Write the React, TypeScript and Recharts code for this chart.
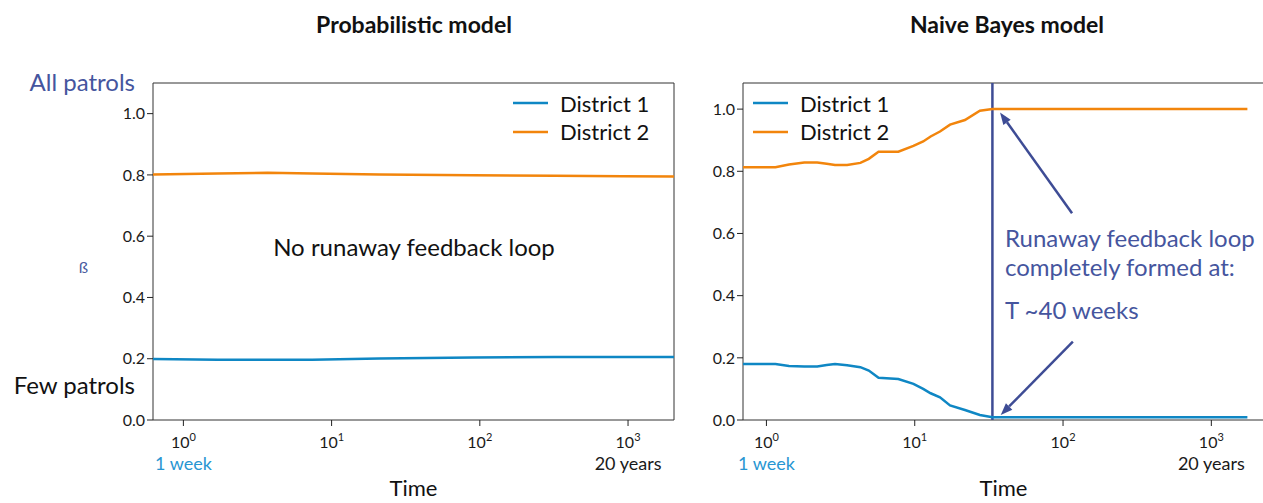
import React from "react";
import {
  LineChart,
  Line,
  XAxis,
  YAxis,
  Legend,
  ReferenceLine,
  ReferenceArea,
} from "recharts";

// time in weeks (log axis)
const probWeeks = [0.6237, 1.7, 3.7, 7.4, 21, 90, 320, 925, 2042];
const probDistrict1 = [0.199, 0.197, 0.197, 0.197, 0.201, 0.204, 0.206, 0.206, 0.206];
const probDistrict2 = [0.801, 0.805, 0.807, 0.805, 0.801, 0.799, 0.797, 0.796, 0.795];

const bayesWeeks = [
  0.695, 1.15, 1.42, 1.8, 2.2, 2.55, 2.9, 3.5, 4.3, 4.9, 5.7, 7.75, 9.8, 11.4,
  12.8, 14.8, 17.3, 21.8, 27.5, 33.4, 1750,
];
const bayesDistrict1 = [
  0.18, 0.18, 0.174, 0.172, 0.172, 0.177, 0.18, 0.176, 0.17, 0.159, 0.136, 0.132,
  0.116, 0.1, 0.086, 0.073, 0.047, 0.032, 0.016, 0.009, 0.009,
];
const bayesDistrict2 = [
  0.813, 0.813, 0.822, 0.828, 0.828, 0.824, 0.82, 0.82, 0.827, 0.84, 0.863, 0.863,
  0.882, 0.896, 0.912, 0.928, 0.95, 0.965, 0.995, 1.0, 1.0,
];

const seriesNames = ["District 1", "District 2"];
const xTicks = [1, 10, 100, 1000];
const xTickNotes = ["1 week", "", "", "20 years"];
const yTicks = [0, 0.2, 0.4, 0.6, 0.8, 1.0];

const formedAtWeek = 33.4;
const arrowSegments = [
  [{ x: 115, y: 0.665 }, { x: 37.6, y: 0.989 }],
  [{ x: 116.5, y: 0.252 }, { x: 38, y: 0.016 }],
];

const BLUE = "#0f87c4";
const ORANGE = "#f2850c";
const NAVY = "#3e4c95";
const FONT = "Lato, 'Open Sans', sans-serif";

const toRows = (weeks: number[], d1: number[], d2: number[]) =>
  weeks.map((t, i) => ({ t, d1: d1[i], d2: d2[i] }));

const probData = toRows(probWeeks, probDistrict1, probDistrict2);
const bayesData = toRows(bayesWeeks, bayesDistrict1, bayesDistrict2);

function TimeTick(props: any) {
  const { x, y, payload } = props;
  const idx = xTicks.indexOf(payload.value);
  const exp = Math.round(Math.log10(payload.value));
  const note = idx >= 0 ? xTickNotes[idx] : "";
  return (
    <g>
      <text x={x} y={y + 21} textAnchor="middle" fontSize={16} fill="#1a1a1a" fontFamily={FONT}>
        10
        <tspan dy={-7} fontSize={11}>
          {exp}
        </tspan>
      </text>
      {note && (
        <text
          x={x}
          y={y + 43}
          textAnchor="middle"
          fontSize={18}
          fill={idx === 0 ? "#2896d2" : "#1a1a1a"}
          fontFamily={FONT}
        >
          {note}
        </text>
      )}
    </g>
  );
}

function legendContent(props: any) {
  const items = props.payload || [];
  return (
    <div style={{ fontFamily: FONT }}>
      {items.map((item: any) => (
        <div key={item.value} style={{ display: "flex", alignItems: "center", height: 28.4 }}>
          <svg width={35} height={4} style={{ display: "block" }}>
            <line x1={0} x2={35} y1={2} y2={2} stroke={item.color} strokeWidth={2.5} />
          </svg>
          <span style={{ marginLeft: 12, fontSize: 22, color: "#111", whiteSpace: "nowrap" }}>
            {item.value}
          </span>
        </div>
      ))}
    </div>
  );
}

function arrowShape(p: any) {
  const { x1, y1, x2, y2 } = p;
  const ang = Math.atan2(y2 - y1, x2 - x1);
  const L = 12;
  const W = 4.5;
  const bx = x2 - L * Math.cos(ang);
  const by = y2 - L * Math.sin(ang);
  const s = Math.sin(ang);
  const c = Math.cos(ang);
  const pts = `${x2},${y2} ${bx + W * s},${by - W * c} ${bx - W * s},${by + W * c}`;
  return (
    <g>
      <line x1={x1} y1={y1} x2={bx} y2={by} stroke={NAVY} strokeWidth={2.5} />
      <polygon points={pts} fill={NAVY} />
    </g>
  );
}

type PanelProps = {
  data: { t: number; d1: number; d2: number }[];
  width: number;
  yAxisWidth: number;
  marginRight: number;
  xDomain: [number, number];
  yMax: number;
  legendLeft: number;
  children?: React.ReactNode;
};

function Panel({ data, width, yAxisWidth, marginRight, xDomain, yMax, legendLeft, children }: PanelProps) {
  return (
    <LineChart
      width={width}
      height={503}
      data={data}
      margin={{ top: 83, right: marginRight, bottom: 0, left: 0 }}
    >
      <XAxis
        dataKey="t"
        type="number"
        scale="log"
        domain={xDomain}
        allowDataOverflow
        ticks={xTicks}
        tick={<TimeTick />}
        tickSize={6}
        tickMargin={1}
        tickLine={{ stroke: "#222" }}
        axisLine={false}
        height={83}
        interval={0}
        label={{ value: "Time", position: "insideBottom", offset: 7, fontSize: 22, fill: "#111", fontFamily: FONT }}
      />
      <YAxis
        type="number"
        domain={[0, yMax]}
        allowDataOverflow
        ticks={yTicks}
        tickFormatter={(v: number) => v.toFixed(1)}
        width={yAxisWidth}
        tickSize={6}
        tickMargin={2}
        tickLine={{ stroke: "#222" }}
        axisLine={false}
        tick={{ fontSize: 16, fill: "#1a1a1a", fontFamily: FONT }}
      />
      <ReferenceArea
        x1={xDomain[0]}
        x2={xDomain[1]}
        y1={0}
        y2={yMax}
        fill="none"
        stroke="#333"
        strokeWidth={1}
        ifOverflow="visible"
      />
      {children}
      <Line
        type="linear"
        dataKey="d1"
        name={seriesNames[0]}
        stroke={BLUE}
        strokeWidth={2.5}
        dot={false}
        isAnimationActive={false}
      />
      <Line
        type="linear"
        dataKey="d2"
        name={seriesNames[1]}
        stroke={ORANGE}
        strokeWidth={2.5}
        dot={false}
        isAnimationActive={false}
      />
      <Legend
        layout="vertical"
        align="center"
        verticalAlign="middle"
        content={legendContent}
        wrapperStyle={{ top: 89, left: legendLeft, width: 170 }}
      />
    </LineChart>
  );
}

export default function App() {
  return (
    <div
      style={{
        position: "absolute",
        left: 0,
        top: 0,
        width: 1263,
        height: 503,
        overflow: "hidden",
        background: "#fff",
        fontFamily: FONT,
      }}
    >
      <div style={{ position: "absolute", left: 0, top: 0 }}>
        <Panel
          data={probData}
          width={700}
          yAxisWidth={153}
          marginRight={26}
          xDomain={[0.6237, 2042]}
          yMax={1.1}
          legendLeft={513}
        />
      </div>
      <div style={{ position: "absolute", left: 700, top: 0 }}>
        <Panel
          data={bayesData}
          width={580}
          yAxisWidth={43}
          marginRight={16}
          xDomain={[0.695, 2265]}
          yMax={1.084}
          legendLeft={53}
        >
          <ReferenceLine x={formedAtWeek} stroke={NAVY} strokeWidth={2.5} />
          {arrowSegments.map((seg, i) => (
            <ReferenceLine key={i} segment={seg} shape={arrowShape} ifOverflow="visible" />
          ))}
        </Panel>
      </div>
      <svg
        width={1263}
        height={503}
        style={{ position: "absolute", left: 0, top: 0, pointerEvents: "none" }}
        fontFamily={FONT}
      >
        <text x={414} y={33} textAnchor="middle" fontSize={23} fontWeight="bold" fill="#111">
          Probabilistic model
        </text>
        <text x={1007} y={33} textAnchor="middle" fontSize={23} fontWeight="bold" fill="#111">
          Naive Bayes model
        </text>
        <text x={135} y={91} textAnchor="end" fontSize={24} fill="#45559e">
          All patrols
        </text>
        <text x={135} y={394} textAnchor="end" fontSize={24} fill="#111">
          Few patrols
        </text>
        <text x={83.5} y={273} textAnchor="middle" fontSize={16} fill="#4a5aa0">
          ß
        </text>
        <text x={414} y={256} textAnchor="middle" fontSize={24} fill="#111">
          No runaway feedback loop
        </text>
        <text x={1005} y={247} fontSize={24} fill="#45559e">
          Runaway feedback loop
        </text>
        <text x={1005} y={276} fontSize={24} fill="#45559e">
          completely formed at:
        </text>
        <text x={1005} y={319} fontSize={24} fill="#45559e">
          T ~40 weeks
        </text>
      </svg>
    </div>
  );
}
